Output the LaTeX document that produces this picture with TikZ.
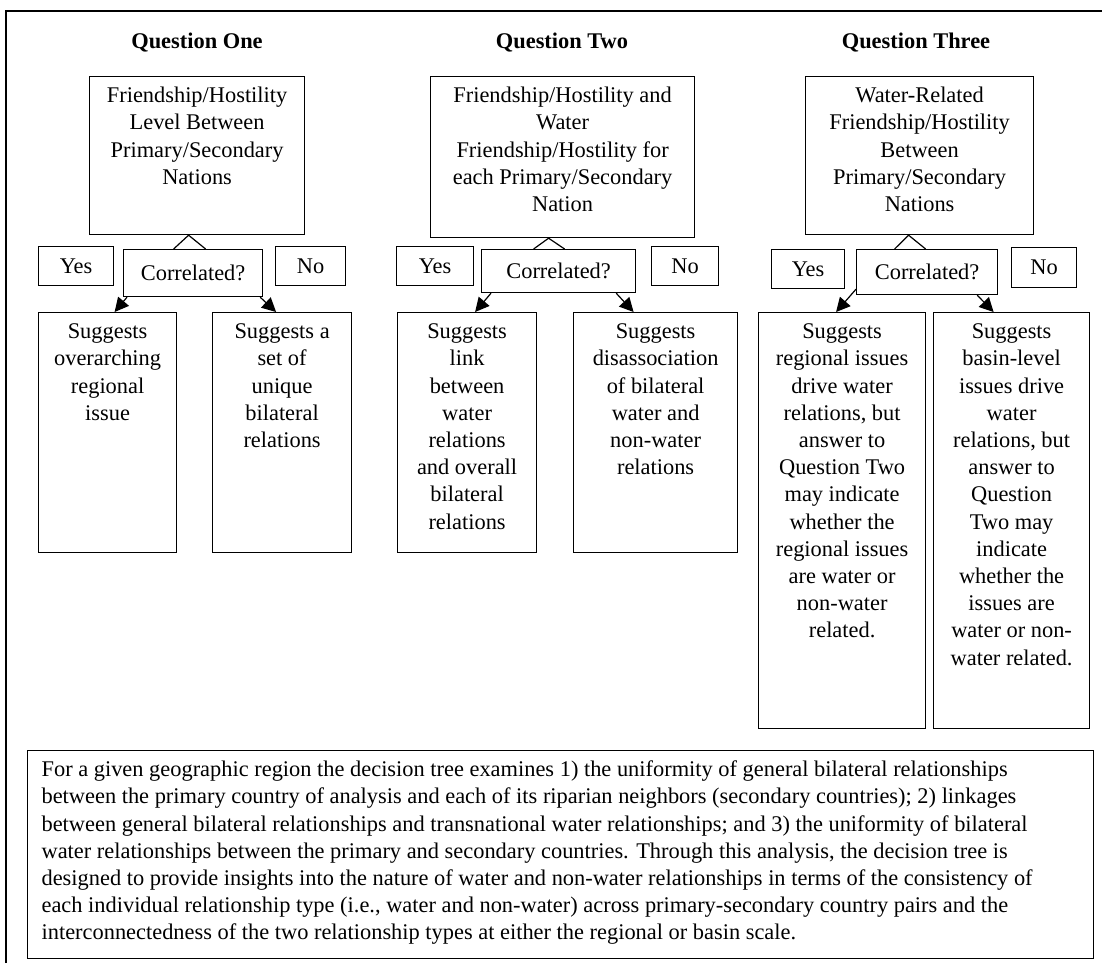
\documentclass[tikz,border=0pt]{standalone}
\usepackage{fontspec}
\setmainfont{Liberation Serif}
\usetikzlibrary{arrows.meta}
\newcommand\tb[3]{\parbox[c][#2][t]{#1}{\centering\rule{0pt}{13pt}#3\par}}
\begin{document}
\begin{tikzpicture}[x=0.5pt,y=-0.5pt,
  every node/.style={font=\fontsize{11.2pt}{13.6pt}\selectfont},
  ttl/.style={font=\fontsize{11.2pt}{13.6pt}\selectfont\bfseries},
  bigbox/.style={draw, line width=0.6pt, inner sep=0pt, anchor=north west},
  smallbox/.style={draw, line width=0.6pt, inner sep=0pt, anchor=north west},
  arr/.style={-{Triangle[length=7pt,width=7pt]}, line width=0.6pt},
  caret/.style={line width=0.6pt},
  frame/.style={line width=1pt}]
\useasboundingbox (0,0) rectangle (1102,963);
\draw[frame] (5.5,963) -- (5.5,11) -- (1102,11);

% ---------- Question One
\node[ttl] (q1) at (197,43) {Question One};
\node[bigbox] (t1) at (89,76) {\tb{107.5pt}{79pt}{Friendship/Hostility\\Level Between\\Primary/Secondary\\Nations}};
\node[smallbox, minimum width=37.5pt, minimum height=19.5pt] (y1) at (38,246) {Yes};
\node[smallbox, minimum width=69.5pt, minimum height=23.5pt] (c1) at (123,249) {Correlated?};
\node[smallbox, minimum width=35pt, minimum height=19.5pt] (n1) at (275,246) {No};
\node[bigbox] (a1) at (38,312) {\tb{69pt}{120pt}{Suggests\\overarching\\regional\\issue}};
\node[bigbox] (a2) at (212,312) {\tb{69.5pt}{120pt}{Suggests a\\set of\\unique\\bilateral\\relations}};
\draw[caret] ([xshift=-9.75pt]c1.north) -- ([xshift=-4.25pt]t1.south) -- ([xshift=6.25pt]c1.north);
\draw[arr] ([xshift=2pt]c1.south west) -- ([xshift=3.5pt]a1.north);
\draw[arr] ([xshift=-1.5pt]c1.south east) -- ([xshift=-3pt]a2.north);

% ---------- Question Two
\node[ttl] (q2) at (562,43) {Question Two};
\node[bigbox] (t2) at (430,76) {\tb{132pt}{80.5pt}{Friendship/Hostility and\\Water\\Friendship/Hostility for\\each Primary/Secondary\\Nation}};
\node[smallbox, minimum width=38.5pt, minimum height=19.5pt] (y2) at (396,246) {Yes};
\node[smallbox, minimum width=77pt, minimum height=21.5pt] (c2) at (481,249) {Correlated?};
\node[smallbox, minimum width=33.5pt, minimum height=19.5pt] (n2) at (651,246) {No};
\node[bigbox] (a3) at (397,312) {\tb{69.5pt}{120pt}{Suggests\\link\\between\\water\\relations\\and overall\\bilateral\\relations}};
\node[bigbox] (a4) at (573,312) {\tb{82pt}{120pt}{Suggests\\disassociation\\of bilateral\\water and\\non-water\\relations}};
\draw[caret] ([xshift=-12.5pt]c2.north) -- ([xshift=-7pt]t2.south) -- ([xshift=3pt]c2.north);
\draw[arr] ([xshift=5pt]c2.south west) -- ([xshift=4pt]a3.north);
\draw[arr] ([xshift=-10pt]c2.south east) -- ([xshift=-11pt]a4.north);

% ---------- Question Three
\node[ttl] (q3) at (916,43) {Question Three};
\node[bigbox] (t3) at (805,76) {\tb{114pt}{79pt}{Water-Related\\Friendship/Hostility\\Between\\Primary/Secondary\\Nations}};
\node[smallbox, minimum width=36.5pt, minimum height=19.5pt] (y3) at (771,249) {Yes};
\node[smallbox, minimum width=70.5pt, minimum height=22.5pt] (c3) at (856,249) {Correlated?};
\node[smallbox, minimum width=32.5pt, minimum height=20pt] (n3) at (1011,247) {No};
\node[bigbox] (a5) at (758,312) {\tb{83.5pt}{208pt}{Suggests\\regional issues\\drive water\\relations, but\\answer to\\Question Two\\may indicate\\whether the\\regional issues\\are water or\\non-water\\related.}};
\node[bigbox] (a6) at (933,312) {\tb{78pt}{208pt}{Suggests\\basin-level\\issues drive\\water\\relations, but\\answer to\\Question\\Two may\\indicate\\whether the\\issues are\\water or non-\\water related.}};
\draw[caret] ([xshift=-16.25pt]c3.north) -- ([xshift=-5.5pt]t3.south) -- ([xshift=-0.75pt]c3.north);
\draw[arr] ([yshift=3pt]c3.south west) -- ([xshift=-3pt]a5.north);
\draw[arr] ([xshift=-10.5pt]c3.south east) -- ([xshift=-9pt]a6.north);

% ---------- Summary
\node[bigbox] (s) at (27,750) {\parbox[c][104pt][t]{533pt}{\leftskip=7pt\rule{0pt}{13pt}For a given geographic region the decision tree examines 1) the uniformity of general bilateral relationships\\
between the primary country of analysis and each of its riparian neighbors (secondary countries); 2) linkages\\
between general bilateral relationships and transnational water relationships; and 3) the uniformity of bilateral\\
water relationships between the primary and secondary countries. Through this analysis, the decision tree is\\
designed to provide insights into the nature of water and non-water relationships in terms of the consistency of\\
each individual relationship type (i.e., water and non-water) across primary-secondary country pairs and the\\
interconnectedness of the two relationship types at either the regional or basin scale.\par}};
\end{tikzpicture}
\end{document}
